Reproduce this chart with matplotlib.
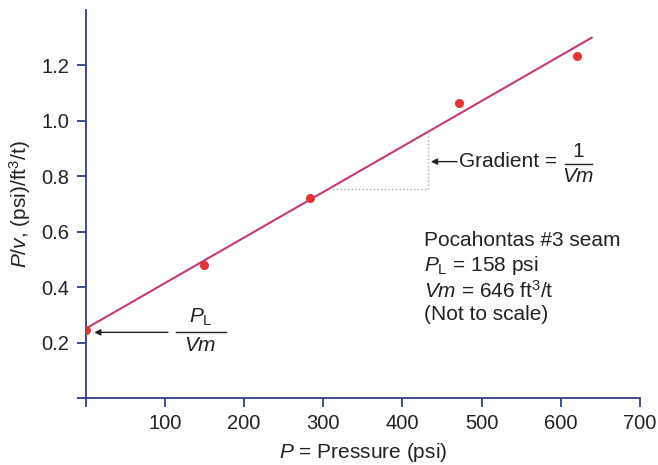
import matplotlib.pyplot as plt
import numpy as np
from matplotlib.lines import Line2D

plt.rcParams['font.family'] = ['Liberation Sans', 'DejaVu Sans']
plt.rcParams['mathtext.fontset'] = 'custom'
plt.rcParams['mathtext.rm'] = 'Liberation Sans'
plt.rcParams['mathtext.it'] = 'Liberation Sans:italic'

# measured points (pressure in psi, P/v)
pressure = [0, 150, 284, 472, 621]
p_over_v = [0.245, 0.481, 0.722, 1.065, 1.234]

# fitted straight line (drawn schematically)
fit_x = [0, 639]
fit_y = [0.25, 1.30]

x_ticks = [0, 100, 200, 300, 400, 500, 600, 700]
x_labels = ['', '100', '200', '300', '400', '500', '600', '700']
y_ticks = [0, 0.2, 0.4, 0.6, 0.8, 1.0, 1.2]
y_labels = ['', '0.2', '0.4', '0.6', '0.8', '1.0', '1.2']

axis_col = '#2e3f86'
line_col = '#c8377a'
dot_col = '#e23434'
txt = '#222222'
fs = 15

fig = plt.figure(figsize=(6.58, 4.65), dpi=100)
ax = fig.add_axes([0.130, 0.144, 0.8426, 0.8345])

ax.plot(fit_x, fit_y, color=line_col, lw=1.5, zorder=2)
ax.plot(pressure, p_over_v, 'o', color=dot_col, ms=5.5, zorder=3)

ax.set_xlim(0, 700)
ax.set_ylim(0, 1.4)
ax.set_xticks(x_ticks)
ax.set_xticklabels(x_labels)
ax.set_yticks(y_ticks)
ax.set_yticklabels(y_labels)
for s in ['top', 'right']:
    ax.spines[s].set_visible(False)
for s in ['left', 'bottom']:
    ax.spines[s].set_color(axis_col)
    ax.spines[s].set_linewidth(1.3)
ax.tick_params(axis='both', direction='out', length=6.5, width=1.3,
               color=axis_col, labelsize=14.5, labelcolor=txt, pad=5)

ax.set_xlabel(r'$P$ = Pressure (psi)', fontsize=fs, color=txt, labelpad=6)
ax.set_ylabel(r'$P/v$, (psi)/ft$^3$/t)', fontsize=fs, color=txt, labelpad=6)

# gradient triangle
corner_x, corner_y = 433, 0.755
h_start = np.interp(corner_y, fit_y, fit_x)
v_top = np.interp(corner_x, fit_x, fit_y)
ax.plot([h_start, corner_x], [corner_y, corner_y], ls=':', color='#aaaaaa', lw=1)
ax.plot([corner_x, corner_x], [corner_y, v_top], ls=':', color='#aaaaaa', lw=1)

arrow = dict(arrowstyle='-|>', color=txt, lw=1, mutation_scale=9,
             shrinkA=0, shrinkB=0)
ax.annotate('', xy=(436, 0.853), xytext=(469, 0.853), arrowprops=arrow)
ax.text(471, 0.852, 'Gradient =', fontsize=fs, va='center', ha='left', color=txt)
ax.text(622, 0.890, '1', fontsize=fs, va='center', ha='center', color=txt)
ax.add_line(Line2D([605, 640], [0.843, 0.843], color=txt, lw=1))
ax.text(622, 0.798, r'$Vm$', fontsize=fs, va='center', ha='center', color=txt)

# intercept annotation
ax.annotate('', xy=(11, 0.237), xytext=(104, 0.237), arrowprops=arrow)
ax.text(145, 0.290, r'$P_{\mathrm{L}}$', fontsize=fs, va='center', ha='center', color=txt)
ax.add_line(Line2D([114, 177], [0.239, 0.239], color=txt, lw=1))
ax.text(145, 0.190, r'$Vm$', fontsize=fs, va='center', ha='center', color=txt)

# seam details
ax.text(427, 0.570, 'Pocahontas #3 seam', fontsize=fs, va='center', color=txt)
ax.text(427, 0.478, r'$P_{\mathrm{L}}$ = 158 psi', fontsize=fs, va='center', color=txt)
ax.text(427, 0.385, r'$Vm$ = 646 ft$^3$/t', fontsize=fs, va='center', color=txt)
ax.text(427, 0.303, '(Not to scale)', fontsize=fs, va='center', color=txt)

fig.savefig('out.png', dpi=100)
